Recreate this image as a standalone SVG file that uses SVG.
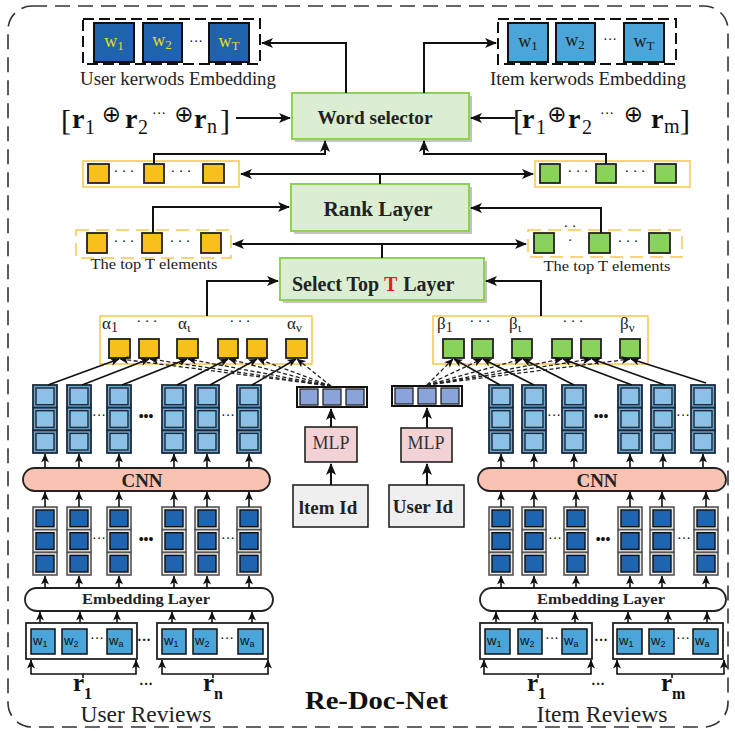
<svg xmlns="http://www.w3.org/2000/svg" width="735" height="731" viewBox="0 0 735 731">
<style>
.serif{font-family:"Liberation Serif","Times New Roman","DejaVu Serif",serif;}
.sans{font-family:"Liberation Sans",Arial,sans-serif;}
.b{font-weight:bold;}
.ln{stroke:#111;stroke-width:2;fill:none;}
.lt{stroke:#111;stroke-width:1.6;fill:none;}
.dash{stroke:#222;stroke-width:1.3;fill:none;stroke-dasharray:4 2.5;}
.gbox{fill:#dbedd3;stroke:#8fd24f;stroke-width:2;}
.shadow{fill:#c4c4c4;}
.or{fill:#f8c01c;stroke:#222;stroke-width:1.8;}
.gr{fill:#8ad35b;stroke:#222;stroke-width:1.8;}
.ocon{fill:#fff;stroke:#f7c749;stroke-width:1.5;}
.ocond{fill:#fff;stroke:#f7c749;stroke-width:1.5;stroke-dasharray:13 7;}
.kw{stroke:#111;stroke-width:2;}
.rc{fill:#4ba5d8;stroke:#111;stroke-width:1.5;}
.vc{fill:#8aa3d8;stroke:#222;stroke-width:1.3;}
.dots{font-family:"Liberation Serif",serif;font-size:14px;fill:#111;}
.op{font-family:"DejaVu Sans","Liberation Serif",sans-serif;font-size:23px;}
</style>
<defs>
<marker id="ah" viewBox="0 0 12 10" refX="11" refY="5" markerWidth="12" markerHeight="10" markerUnits="userSpaceOnUse" orient="auto-start-reverse">
<path d="M0,0 L12,5 L0,10 L3,5 Z" fill="#111"/>
</marker>
<marker id="as" viewBox="0 0 10 9" refX="9.5" refY="4.5" markerWidth="9" markerHeight="8" markerUnits="userSpaceOnUse" orient="auto">
<path d="M0,0 L10,4.5 L0,9 L2.5,4.5 Z" fill="#111"/>
</marker>
<g id="oc">
<rect x="0" y="0" width="24" height="22.7" fill="#6fa6d0" stroke="#1b2b3b" stroke-width="1.8"/>
<rect x="3" y="3" width="18" height="16.7" fill="#8dc0e5" stroke="#1b2b3b" stroke-width="1.4"/>
<rect x="0" y="22.7" width="24" height="22.7" fill="#6fa6d0" stroke="#1b2b3b" stroke-width="1.8"/>
<rect x="3" y="25.7" width="18" height="16.7" fill="#8dc0e5" stroke="#1b2b3b" stroke-width="1.4"/>
<rect x="0" y="45.4" width="24" height="22.6" fill="#6fa6d0" stroke="#1b2b3b" stroke-width="1.8"/>
<rect x="3" y="48.4" width="18" height="16.6" fill="#8dc0e5" stroke="#1b2b3b" stroke-width="1.4"/>
</g>
<g id="dc">
<rect x="0" y="0" width="24" height="22.7" fill="#e8e8e8" stroke="#555" stroke-width="1.6"/>
<rect x="3" y="3" width="18" height="16.7" fill="#1f64ae" stroke="#111" stroke-width="1.4"/>
<rect x="0" y="22.7" width="24" height="22.7" fill="#e8e8e8" stroke="#555" stroke-width="1.6"/>
<rect x="3" y="25.7" width="18" height="16.7" fill="#1f64ae" stroke="#111" stroke-width="1.4"/>
<rect x="0" y="45.4" width="24" height="22.6" fill="#e8e8e8" stroke="#555" stroke-width="1.6"/>
<rect x="3" y="48.4" width="18" height="16.6" fill="#1f64ae" stroke="#111" stroke-width="1.4"/>
</g>
</defs>

<rect x="0" y="0" width="735" height="731" fill="#fff"/>
<rect id="frame" x="8" y="6" width="720" height="721" rx="24" fill="none" stroke="#333" stroke-width="1.6" stroke-dasharray="15 8"/>

<!-- User keywords -->
<g id="user-keywords">
<rect x="83" y="19" width="177" height="45" fill="none" stroke="#111" stroke-width="2" stroke-dasharray="11 5"/>
<rect x="94" y="23" width="40" height="39" fill="#1f63ad" class="kw"/>
<rect x="143" y="23" width="39" height="39" fill="#1f63ad" class="kw"/>
<rect x="209" y="23" width="40" height="39" fill="#1f63ad" class="kw"/>
<g class="serif" font-size="18" fill="#e3dc24" text-anchor="middle">
<text x="114" y="47">w<tspan font-size="13" dy="3">1</tspan></text>
<text x="162" y="46">w<tspan font-size="13" dy="3">2</tspan></text>
<text x="229" y="47">w<tspan font-size="13" dy="3">T</tspan></text>
</g>
<text x="196" y="46" class="dots" text-anchor="middle">···</text>
<text x="178" y="85" class="serif" font-size="18" fill="#222" text-anchor="middle" textLength="196" lengthAdjust="spacingAndGlyphs">User kerwods Embedding</text>
</g>

<!-- Item keywords -->
<g id="item-keywords">
<rect x="498" y="19" width="178" height="45" fill="none" stroke="#111" stroke-width="2" stroke-dasharray="11 5"/>
<rect x="508" y="23" width="40" height="39" fill="#4ba5d8" class="kw"/>
<rect x="556" y="23" width="39" height="39" fill="#4ba5d8" class="kw"/>
<rect x="624" y="23" width="40" height="39" fill="#4ba5d8" class="kw"/>
<g class="serif" font-size="18" fill="#1a1a1a" text-anchor="middle">
<text x="528" y="47">w<tspan font-size="13" dy="3">1</tspan></text>
<text x="575" y="46">w<tspan font-size="13" dy="3">2</tspan></text>
<text x="644" y="47">w<tspan font-size="13" dy="3">T</tspan></text>
</g>
<text x="610" y="44" class="dots" text-anchor="middle">···</text>
<text x="588" y="85" class="serif" font-size="18" fill="#222" text-anchor="middle" textLength="196" lengthAdjust="spacingAndGlyphs">Item kerwods Embedding</text>
</g>

<!-- concatenated reviews -->
<g id="user-concat" class="serif" fill="#111">
<text x="61" y="130" font-size="30">[</text>
<text x="72" y="128" font-size="28" class="b">r</text>
<text x="85" y="134" font-size="20">1</text>
<text x="111.5" y="122" class="op" text-anchor="middle">⊕</text>
<text x="125" y="128" font-size="28" class="b">r</text>
<text x="138" y="134" font-size="20">2</text>
<text x="152" y="118" font-size="14">···</text>
<text x="184" y="122" class="op" text-anchor="middle">⊕</text>
<text x="194" y="128" font-size="28" class="b">r</text>
<text x="207" y="133" font-size="20">n</text>
<text x="220" y="130" font-size="30">]</text>
</g>
<g id="item-concat" class="serif" fill="#111">
<text x="513" y="130" font-size="30">[</text>
<text x="522" y="128" font-size="28" class="b">r</text>
<text x="536" y="134" font-size="20">1</text>
<text x="557" y="122" class="op" text-anchor="middle">⊕</text>
<text x="568" y="128" font-size="28" class="b">r</text>
<text x="582" y="134" font-size="20">2</text>
<text x="600" y="118" font-size="14">···</text>
<text x="633.5" y="122" class="op" text-anchor="middle">⊕</text>
<text x="651" y="128" font-size="28" class="b">r</text>
<text x="664" y="133" font-size="20">m</text>
<text x="680" y="130" font-size="30">]</text>
</g>

<!-- Word selector -->
<g id="word-selector">
<rect x="295" y="96" width="177" height="46" class="shadow"/>
<rect x="292" y="93" width="177" height="46" class="gbox"/>
<text x="375" y="124" class="serif b" font-size="18" fill="#222" text-anchor="middle" textLength="115" lengthAdjust="spacingAndGlyphs">Word selector</text>
</g>

<!-- Rank layer -->
<g id="rank-layer">
<rect x="294" y="187" width="178" height="47" class="shadow"/>
<rect x="291" y="184" width="178" height="47" class="gbox"/>
<text x="378" y="216" class="serif b" font-size="20" fill="#222" text-anchor="middle" textLength="109" lengthAdjust="spacingAndGlyphs">Rank Layer</text>
</g>

<!-- Select top T -->
<g id="select-top">
<rect x="283" y="261" width="204" height="42" class="shadow"/>
<rect x="280" y="258" width="204" height="42" class="gbox"/>
<text x="292" y="291" class="serif b" font-size="20" fill="#222">Select Top <tspan fill="#e0201b">T</tspan><tspan dx="6">Layer</tspan></text>
</g>

<!-- ranked user vector -->
<g id="user-ranked">
<rect x="83" y="161" width="156" height="26" class="ocon"/>
<rect x="88" y="164" width="21" height="19" class="or"/>
<rect x="144" y="164" width="20" height="19" class="or"/>
<rect x="203" y="164" width="21" height="19" class="or"/>
<text x="124" y="176" class="dots" text-anchor="middle" font-size="13">· · ·</text>
<text x="181" y="176" class="dots" text-anchor="middle" font-size="13">· · ·</text>
</g>
<g id="item-ranked">
<rect x="535" y="161" width="155" height="26" class="ocon"/>
<rect x="540" y="164" width="20" height="19" class="gr"/>
<rect x="596" y="164" width="20" height="19" class="gr"/>
<rect x="655" y="164" width="21" height="19" class="gr"/>
<text x="578" y="176" class="dots" text-anchor="middle" font-size="13">· · ·</text>
<text x="635" y="176" class="dots" text-anchor="middle" font-size="13">· · ·</text>
</g>

<!-- top T elements -->
<g id="user-topT">
<rect x="76" y="230" width="155" height="28" class="ocond"/>
<rect x="87" y="233" width="20" height="20" class="or"/>
<rect x="142" y="233" width="20" height="20" class="or"/>
<rect x="201" y="233" width="20" height="20" class="or"/>
<text x="124" y="246" class="dots" text-anchor="middle" font-size="13">· · ·</text>
<text x="180" y="246" class="dots" text-anchor="middle" font-size="13">· · ·</text>
<text x="154" y="269" class="serif" font-size="15.5" fill="#222" text-anchor="middle" textLength="127" lengthAdjust="spacingAndGlyphs">The top T elements</text>
</g>
<g id="item-topT">
<rect x="528" y="230" width="154" height="27" class="ocond"/>
<rect x="534" y="233" width="20" height="20" class="gr"/>
<rect x="589" y="233" width="21" height="20" class="gr"/>
<rect x="649" y="233" width="21" height="20" class="gr"/>
<text x="570" y="231" class="dots" text-anchor="middle" font-size="10">·  ·</text>
<text x="570" y="245" class="dots" text-anchor="middle" font-size="10">·</text>
<text x="628" y="246" class="dots" text-anchor="middle" font-size="13">· · ·</text>
<text x="607" y="271" class="serif" font-size="15.5" fill="#222" text-anchor="middle" textLength="127" lengthAdjust="spacingAndGlyphs">The top T elements</text>
</g>

<!-- attention weights -->
<g id="alpha-weights">
<rect x="100" y="316" width="212" height="48" class="ocon"/>
<rect x="109" y="339" width="21" height="19" class="or"/>
<rect x="139" y="339" width="20" height="19" class="or"/>
<rect x="177" y="339" width="21" height="19" class="or"/>
<rect x="218" y="339" width="20" height="19" class="or"/>
<rect x="247" y="339" width="20" height="19" class="or"/>
<rect x="286" y="339" width="21" height="19" class="or"/>
<g class="serif" font-size="17" fill="#222">
<text x="102" y="329">α<tspan font-size="14" dy="3">1</tspan></text>
<text x="178" y="329">α<tspan font-size="13" dy="3">ι</tspan></text>
<text x="287" y="329">α<tspan font-size="13" dy="3">ν</tspan></text>
</g>
<text x="147" y="326" class="dots" text-anchor="middle" font-size="14">·  ·  ·</text>
<text x="240" y="326" class="dots" text-anchor="middle" font-size="14">·  ·  ·</text>
</g>
<g id="beta-weights">
<rect x="433" y="316" width="215" height="48" class="ocon"/>
<rect x="443" y="339" width="21" height="19" class="gr"/>
<rect x="472" y="339" width="21" height="19" class="gr"/>
<rect x="512" y="339" width="20" height="19" class="gr"/>
<rect x="552" y="339" width="20" height="19" class="gr"/>
<rect x="581" y="339" width="20" height="19" class="gr"/>
<rect x="620" y="339" width="20" height="19" class="gr"/>
<g class="serif" font-size="17" fill="#222">
<text x="437" y="329">β<tspan font-size="14" dy="3">1</tspan></text>
<text x="509" y="329">β<tspan font-size="13" dy="3">ι</tspan></text>
<text x="620" y="329">β<tspan font-size="13" dy="3">ν</tspan></text>
</g>
<text x="480" y="326" class="dots" text-anchor="middle" font-size="14">·  ·  ·</text>
<text x="573" y="326" class="dots" text-anchor="middle" font-size="14">·  ·  ·</text>
</g>

<!-- id vectors -->
<g id="item-vector">
<rect x="297" y="387" width="70" height="20" fill="#fff" stroke="#111" stroke-width="2"/>
<rect x="300" y="389" width="18" height="16" class="vc"/>
<rect x="323" y="389" width="18" height="16" class="vc"/>
<rect x="346" y="389" width="18" height="16" class="vc"/>
</g>
<g id="user-vector">
<rect x="392" y="386" width="70" height="20" fill="#fff" stroke="#111" stroke-width="2"/>
<rect x="395" y="388" width="18" height="16" class="vc"/>
<rect x="418" y="388" width="18" height="16" class="vc"/>
<rect x="441" y="388" width="18" height="16" class="vc"/>
</g>
<g id="item-mlp">
<rect x="305" y="427" width="52" height="35" fill="#f3d2d5" stroke="#222" stroke-width="1.6"/>
<text x="331" y="449" class="serif" font-size="18" fill="#333" text-anchor="middle">MLP</text>
</g>
<g id="user-mlp">
<rect x="401" y="428" width="51" height="34" fill="#f3d2d5" stroke="#222" stroke-width="1.6"/>
<text x="426" y="449" class="serif" font-size="18" fill="#333" text-anchor="middle">MLP</text>
</g>
<g id="item-id">
<rect x="293" y="485" width="75" height="42" fill="#efefef" stroke="#222" stroke-width="1.6"/>
<text x="328" y="514" class="serif b" font-size="19" fill="#222" text-anchor="middle">ltem Id</text>
</g>
<g id="user-id">
<rect x="389" y="485" width="75" height="42" fill="#efefef" stroke="#222" stroke-width="1.6"/>
<text x="423" y="513" class="serif b" font-size="19" fill="#222" text-anchor="middle">User Id</text>
</g>

<!-- user CNN side -->
<g id="user-cnn-out">
<use href="#oc" x="33" y="385"/><use href="#oc" x="67" y="385"/><use href="#oc" x="107" y="385"/>
<use href="#oc" x="162" y="385"/><use href="#oc" x="195" y="385"/><use href="#oc" x="237" y="385"/>
<text x="99" y="420" class="dots" text-anchor="middle" font-size="11">···</text>
<text x="146" y="421" class="dots b" text-anchor="middle" font-size="15">•••</text>
<text x="228" y="420" class="dots" text-anchor="middle" font-size="11">···</text>
</g>
<g id="user-cnn">
<rect x="23" y="468" width="247" height="23" rx="11.5" fill="#f9c3b3" stroke="#222" stroke-width="1.8"/>
<text x="142" y="487" class="serif b" font-size="19" fill="#222" text-anchor="middle">CNN</text>
</g>
<g id="user-emb-out">
<use href="#dc" x="33" y="507"/><use href="#dc" x="67" y="507"/><use href="#dc" x="107" y="507"/>
<use href="#dc" x="162" y="507"/><use href="#dc" x="195" y="507"/><use href="#dc" x="237" y="507"/>
<text x="99" y="543" class="dots" text-anchor="middle" font-size="11">···</text>
<text x="146" y="544" class="dots b" text-anchor="middle" font-size="15">•••</text>
<text x="228" y="543" class="dots" text-anchor="middle" font-size="11">···</text>
</g>
<g id="user-embedding">
<rect x="25" y="588" width="248" height="23" rx="11.5" fill="#fff" stroke="#222" stroke-width="1.8"/>
<text x="146" y="604" class="serif b" font-size="15" fill="#222" text-anchor="middle" textLength="128" lengthAdjust="spacingAndGlyphs">Embedding Layer</text>
</g>
<g id="user-review-1">
<rect x="26" y="623" width="111" height="36" fill="#fff" stroke="#222" stroke-width="1.8"/>
<rect x="31" y="629" width="24" height="25" class="rc"/><rect x="62" y="629" width="25" height="25" class="rc"/><rect x="107" y="629" width="25" height="25" class="rc"/>
<g class="sans" font-size="13" fill="#111"><text x="33" y="645">w<tspan font-size="9" dy="2">1</tspan></text><text x="64" y="645">w<tspan font-size="9" dy="2">2</tspan></text><text x="109" y="645">w<tspan font-size="9" dy="2">a</tspan></text></g>
<text x="97" y="643" class="dots" text-anchor="middle" font-size="10">···</text>
</g>
<text x="144" y="645" class="dots b" text-anchor="middle" font-size="14">···</text>
<g id="user-review-n">
<rect x="157" y="623" width="111" height="36" fill="#fff" stroke="#222" stroke-width="1.8"/>
<rect x="162" y="629" width="24" height="25" class="rc"/><rect x="193" y="629" width="24" height="25" class="rc"/><rect x="238" y="629" width="25" height="25" class="rc"/>
<g class="sans" font-size="13" fill="#111"><text x="164" y="645">w<tspan font-size="9" dy="2">1</tspan></text><text x="195" y="645">w<tspan font-size="9" dy="2">2</tspan></text><text x="240" y="645">w<tspan font-size="9" dy="2">a</tspan></text></g>
<text x="227" y="643" class="dots" text-anchor="middle" font-size="10">···</text>
</g>
<g id="user-review-labels" class="serif b" fill="#111">
<text x="73" y="691" font-size="25">r</text><text x="84" y="699" font-size="16">1</text>
<text x="146" y="689" class="dots" text-anchor="middle" font-size="16">···</text>
<text x="203" y="691" font-size="25">r</text><text x="214" y="699" font-size="16">n</text>
</g>
<text x="146" y="722" class="serif" font-size="23" fill="#222" text-anchor="middle" textLength="131" lengthAdjust="spacingAndGlyphs">User Reviews</text>

<!-- item CNN side -->
<g id="item-cnn-out">
<use href="#oc" x="489" y="385"/><use href="#oc" x="522" y="385"/><use href="#oc" x="562" y="385"/>
<use href="#oc" x="618" y="385"/><use href="#oc" x="651" y="385"/><use href="#oc" x="691" y="385"/>
<text x="554" y="420" class="dots" text-anchor="middle" font-size="11">···</text>
<text x="601" y="421" class="dots b" text-anchor="middle" font-size="15">•••</text>
<text x="683" y="420" class="dots" text-anchor="middle" font-size="11">···</text>
</g>
<g id="item-cnn">
<rect x="478" y="468" width="248" height="23" rx="11.5" fill="#f9c3b3" stroke="#222" stroke-width="1.8"/>
<text x="597" y="487" class="serif b" font-size="19" fill="#222" text-anchor="middle">CNN</text>
</g>
<g id="item-emb-out">
<use href="#dc" x="489" y="507"/><use href="#dc" x="522" y="507"/><use href="#dc" x="564" y="507"/>
<use href="#dc" x="618" y="507"/><use href="#dc" x="650" y="507"/><use href="#dc" x="694" y="507"/>
<text x="555" y="543" class="dots" text-anchor="middle" font-size="11">···</text>
<text x="603" y="544" class="dots b" text-anchor="middle" font-size="15">•••</text>
<text x="684" y="543" class="dots" text-anchor="middle" font-size="11">···</text>
</g>
<g id="item-embedding">
<rect x="480" y="588" width="246" height="23" rx="11.5" fill="#fff" stroke="#222" stroke-width="1.8"/>
<text x="601" y="604" class="serif b" font-size="15" fill="#222" text-anchor="middle" textLength="128" lengthAdjust="spacingAndGlyphs">Embedding Layer</text>
</g>
<g id="item-review-1">
<rect x="480" y="623" width="112" height="36" fill="#fff" stroke="#222" stroke-width="1.8"/>
<rect x="485" y="629" width="25" height="25" class="rc"/><rect x="518" y="629" width="24" height="25" class="rc"/><rect x="562" y="629" width="25" height="25" class="rc"/>
<g class="sans" font-size="13" fill="#111"><text x="487" y="645">w<tspan font-size="9" dy="2">1</tspan></text><text x="520" y="645">w<tspan font-size="9" dy="2">2</tspan></text><text x="564" y="645">w<tspan font-size="9" dy="2">a</tspan></text></g>
<text x="552" y="643" class="dots" text-anchor="middle" font-size="10">···</text>
</g>
<text x="601" y="645" class="dots b" text-anchor="middle" font-size="14">···</text>
<g id="item-review-m">
<rect x="613" y="623" width="110" height="36" fill="#fff" stroke="#222" stroke-width="1.8"/>
<rect x="617" y="629" width="25" height="25" class="rc"/><rect x="649" y="629" width="25" height="25" class="rc"/><rect x="693" y="629" width="25" height="25" class="rc"/>
<g class="sans" font-size="13" fill="#111"><text x="619" y="645">w<tspan font-size="9" dy="2">1</tspan></text><text x="651" y="645">w<tspan font-size="9" dy="2">2</tspan></text><text x="695" y="645">w<tspan font-size="9" dy="2">a</tspan></text></g>
<text x="683" y="643" class="dots" text-anchor="middle" font-size="10">···</text>
</g>
<g id="item-review-labels" class="serif b" fill="#111">
<text x="527" y="691" font-size="25">r</text><text x="538" y="699" font-size="16">1</text>
<text x="598" y="689" class="dots" text-anchor="middle" font-size="16">···</text>
<text x="661" y="691" font-size="25">r</text><text x="672" y="699" font-size="16">m</text>
</g>
<text x="602" y="722" class="serif" font-size="23" fill="#222" text-anchor="middle" textLength="131" lengthAdjust="spacingAndGlyphs">Item Reviews</text>

<text id="title" x="305" y="709" class="serif b" font-size="25" fill="#111" textLength="143" lengthAdjust="spacingAndGlyphs">Re-Doc-Net</text>

<!-- connectors -->
<g id="connectors">
<path class="ln" d="M236,118 H290" marker-end="url(#ah)"/>
<path class="ln" d="M515,118 H471" marker-end="url(#ah)"/>
<path class="ln" d="M346,93 V43 H262" marker-end="url(#ah)"/>
<path class="ln" d="M424,93 V43 H496" marker-end="url(#ah)"/>
<path class="ln" d="M154,164 V154 H325 V141" marker-end="url(#ah)"/>
<path class="ln" d="M606,164 V154 H424 V141" marker-end="url(#ah)"/>
<path class="ln" d="M241,174 H533" marker-start="url(#ah)" marker-end="url(#ah)"/>
<path class="ln" d="M380,174 V184"/>
<path class="ln" d="M153,233 V207 H289" marker-end="url(#ah)"/>
<path class="ln" d="M601,233 V208 H471" marker-end="url(#ah)"/>
<path class="ln" d="M233,244 H526" marker-start="url(#ah)" marker-end="url(#ah)"/>
<path class="ln" d="M382,244 V258"/>
<path class="ln" d="M207,316 V281 H278" marker-end="url(#ah)"/>
<path class="ln" d="M541,316 V281 H486" marker-end="url(#ah)"/>

<g class="lt">
<path d="M48,385 L119,359" marker-end="url(#as)"/>
<path d="M82,385 L149,359" marker-end="url(#as)"/>
<path d="M122,385 L187,359" marker-end="url(#as)"/>
<path d="M177,385 L228,359" marker-end="url(#as)"/>
<path d="M210,385 L257,359" marker-end="url(#as)"/>
<path d="M252,385 L296,359" marker-end="url(#as)"/>
<path d="M500,385 L454,359" marker-end="url(#as)"/>
<path d="M534,385 L483,359" marker-end="url(#as)"/>
<path d="M574,385 L523,359" marker-end="url(#as)"/>
<path d="M632,385 L563,359" marker-end="url(#as)"/>
<path d="M665,385 L592,359" marker-end="url(#as)"/>
<path d="M706,383 L631,359" marker-end="url(#as)"/>
</g>
<g class="dash">
<path d="M331,386 L120,359" marker-end="url(#as)"/>
<path d="M331,386 L150,359" marker-end="url(#as)"/>
<path d="M331,386 L188,359" marker-end="url(#as)"/>
<path d="M331,386 L229,359" marker-end="url(#as)"/>
<path d="M331,386 L258,359" marker-end="url(#as)"/>
<path d="M331,386 L297,359" marker-end="url(#as)"/>
<path d="M427,385 L453,359" marker-end="url(#as)"/>
<path d="M427,385 L482,359" marker-end="url(#as)"/>
<path d="M427,385 L522,359" marker-end="url(#as)"/>
<path d="M427,385 L562,359" marker-end="url(#as)"/>
<path d="M427,385 L591,359" marker-end="url(#as)"/>
<path d="M427,385 L630,359" marker-end="url(#as)"/>
</g>

<g class="ln">
<path d="M331,427 V409" marker-end="url(#ah)"/>
<path d="M427,428 V408" marker-end="url(#ah)"/>
<path d="M331,485 V464" marker-end="url(#ah)"/>
<path d="M427,485 V464" marker-end="url(#ah)"/>
</g>

<g class="lt">
<path d="M45,468 V454" marker-end="url(#as)"/><path d="M79,468 V454" marker-end="url(#as)"/><path d="M119,468 V454" marker-end="url(#as)"/>
<path d="M174,468 V454" marker-end="url(#as)"/><path d="M207,468 V454" marker-end="url(#as)"/><path d="M249,468 V454" marker-end="url(#as)"/>
<path d="M45,507 V492" marker-end="url(#as)"/><path d="M79,507 V492" marker-end="url(#as)"/><path d="M119,507 V492" marker-end="url(#as)"/>
<path d="M174,507 V492" marker-end="url(#as)"/><path d="M207,507 V492" marker-end="url(#as)"/><path d="M249,507 V492" marker-end="url(#as)"/>
<path d="M45,588 V576" marker-end="url(#as)"/><path d="M79,588 V576" marker-end="url(#as)"/><path d="M119,588 V576" marker-end="url(#as)"/>
<path d="M174,588 V576" marker-end="url(#as)"/><path d="M207,588 V576" marker-end="url(#as)"/><path d="M249,588 V576" marker-end="url(#as)"/>
<path d="M40,623 V612" marker-end="url(#as)"/><path d="M80,623 V612" marker-end="url(#as)"/><path d="M117,623 V612" marker-end="url(#as)"/>
<path d="M172,623 V612" marker-end="url(#as)"/><path d="M212,623 V612" marker-end="url(#as)"/><path d="M252,623 V612" marker-end="url(#as)"/>

<path d="M501,468 V454" marker-end="url(#as)"/><path d="M534,468 V454" marker-end="url(#as)"/><path d="M574,468 V454" marker-end="url(#as)"/>
<path d="M630,468 V454" marker-end="url(#as)"/><path d="M663,468 V454" marker-end="url(#as)"/><path d="M703,468 V454" marker-end="url(#as)"/>
<path d="M501,507 V492" marker-end="url(#as)"/><path d="M534,507 V492" marker-end="url(#as)"/><path d="M576,507 V492" marker-end="url(#as)"/>
<path d="M630,507 V492" marker-end="url(#as)"/><path d="M662,507 V492" marker-end="url(#as)"/><path d="M706,507 V492" marker-end="url(#as)"/>
<path d="M501,588 V576" marker-end="url(#as)"/><path d="M534,588 V576" marker-end="url(#as)"/><path d="M576,588 V576" marker-end="url(#as)"/>
<path d="M630,588 V576" marker-end="url(#as)"/><path d="M662,588 V576" marker-end="url(#as)"/><path d="M706,588 V576" marker-end="url(#as)"/>
<path d="M496,623 V612" marker-end="url(#as)"/><path d="M535,623 V612" marker-end="url(#as)"/><path d="M575,623 V612" marker-end="url(#as)"/>
<path d="M628,623 V612" marker-end="url(#as)"/><path d="M668,623 V612" marker-end="url(#as)"/><path d="M707,623 V612" marker-end="url(#as)"/>

<path d="M83,674 H31 V660" marker-end="url(#as)"/><path d="M83,674 H136 V660" marker-end="url(#as)"/><path d="M83,674 V678"/>
<path d="M213,674 H162 V660" marker-end="url(#as)"/><path d="M213,674 H268 V660" marker-end="url(#as)"/><path d="M213,674 V678"/>
<path d="M538,674 H484 V660" marker-end="url(#as)"/><path d="M538,674 H591 V660" marker-end="url(#as)"/><path d="M538,674 V678"/>
<path d="M672,674 H617 V660" marker-end="url(#as)"/><path d="M672,674 H724 V660" marker-end="url(#as)"/><path d="M672,674 V678"/>
</g>
</g>
</svg>
